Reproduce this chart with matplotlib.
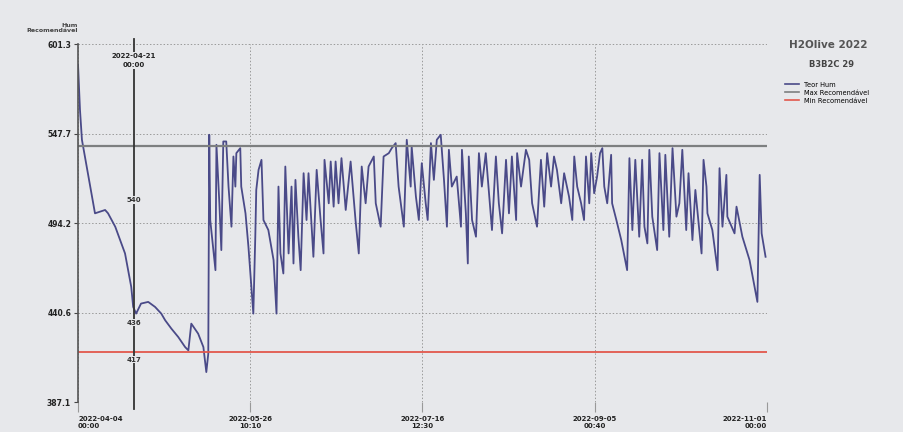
import matplotlib.pyplot as plt
from matplotlib.lines import Line2D

# dias desde 2022-04-04 e teor de humidade
days = [0, 0.6, 1.2, 5.2, 8.3, 9.2, 11.4, 14.4, 16.3, 16.9, 17.8, 19.3, 21.5, 23.6,
        25.5, 26.7, 28.6, 30.7, 32.8, 33.8, 34.7, 36.8, 38.4, 39.3, 39.9, 40.2,
        40.5, 42.1, 42.4, 43.3, 43.9, 44.5, 45.4, 46.1, 47.0, 47.6, 48.2, 48.5,
        49.7, 50.0, 51.3, 52.2, 53.7, 54.3, 54.6, 55.3, 56.2, 56.8, 58.3, 59.9,
        60.8, 61.4, 62.0, 62.9, 63.5, 64.5, 65.4, 66.0, 66.6, 67.5, 68.2, 69.1,
        70.0, 70.6, 72.1, 73.1, 74.3, 75.2, 75.5, 76.8, 77.4, 78.3, 78.9, 79.8,
        80.7, 82.0, 83.5, 85.0, 86.0, 86.9, 88.1, 89.0, 90.6, 91.2, 92.7, 93.6,
        95.2, 96.1, 97.3, 98.2, 99.8, 100.7, 101.9, 102.2, 103.5, 104.4, 105.3,
        106.5, 107.1, 108.1, 109.0, 109.9, 111.1, 112.1, 113.0, 113.6, 114.5,
        116.0, 117.3, 117.6, 118.8, 119.4, 119.7, 120.7, 121.9, 122.8, 123.7,
        124.9, 125.9, 126.8, 128.0, 128.9, 129.9, 131.1, 132.0, 132.9, 134.2,
        134.5, 135.7, 137.2, 138.2, 139.1, 140.6, 141.8, 142.8, 143.7, 144.9,
        145.8, 146.7, 148.0, 148.9, 150.4, 151.4, 152.0, 152.9, 154.1, 155.0,
        155.6, 156.6, 157.2, 158.1, 159.0, 159.9, 160.6, 161.2, 162.1, 163.3,
        163.6, 164.9, 166.4, 168.2, 168.9, 169.8, 170.7, 171.9, 172.8, 173.5,
        174.4, 175.0, 175.9, 177.4, 178.1, 179.3, 179.9, 181.1, 182.1, 183.3,
        184.2, 185.1, 186.3, 187.0, 188.2, 189.1, 191.0, 191.6, 192.5, 192.8,
        194.3, 195.9, 196.5, 197.4, 198.6, 198.9, 201.1, 201.7, 203.5, 205.7,
        208.1, 208.8, 209.4, 210.6]
hum = [589, 562, 544, 500, 502, 500, 492, 476, 456, 444, 440, 446, 447, 444,
       440, 436, 431, 426, 420, 418, 434, 428, 420, 405, 416, 547,
       496, 466, 541, 506, 478, 543, 543, 516, 492, 534, 516, 536,
       539, 516, 500, 480, 440, 486, 514, 526, 532, 496, 490, 472,
       440, 516, 476, 464, 528, 476, 516, 470, 520, 486, 466, 524,
       496, 524, 474, 526, 496, 476, 532, 506, 531, 504, 531, 506,
       533, 502, 531, 496, 476, 528, 506, 528, 534, 506, 492, 534,
       536, 539, 542, 516, 492, 544, 516, 540, 510, 496, 530,
       506, 496, 542, 520, 544, 547, 520, 492, 538, 516,
       522, 492, 538, 500, 470, 534, 496, 486, 536, 516,
       536, 512, 490, 534, 506, 488, 532, 500, 534, 496,
       536, 516, 538, 532, 506, 492, 532, 504, 536, 516,
       534, 526, 506, 524, 510, 496, 534, 516, 506, 496,
       534, 506, 536, 512, 522, 536, 539, 516, 506, 535,
       506, 496, 484, 466, 533, 490, 532, 486, 532, 492,
       482, 538, 498, 478, 536, 490, 535, 486, 539, 498,
       506, 538, 490, 524, 484, 514, 476, 532, 516, 500,
       490, 466, 527, 492, 523, 498, 488, 504, 486, 472,
       447, 523, 488, 474]

max_rec = 540
min_rec = 417
y_ticks = [387.1, 440.6, 494.2, 547.7, 601.3]
x_ticks = [0, 52.75, 105.5, 158.25, 211]
x_labels = ["2022-04-04\n00:00", "2022-05-26\n10:10", "2022-07-16\n12:30",
            "2022-09-05\n00:40", "2022-11-01\n00:00"]
cursor_day = 17.2
cursor_label = "2022-04-21\n00:00"
cursor_vals = [(508, "540"), (434.5, "436"), (412.5, "417")]

bg = "#e7e8eb"
line_col = "#4a4a88"
max_col = "#7d7f80"
min_col = "#e2574c"

fig = plt.figure(figsize=(9.04, 4.32), dpi=100, facecolor=bg)
ax = fig.add_axes([0.0863, 0.0694, 0.762, 0.8287], facecolor=bg)

ax.plot(days, hum, color=line_col, lw=1.3)
ax.axhline(max_rec, color=max_col, lw=1.6)
ax.axhline(min_rec, color=min_col, lw=1.3)

ax.set_xlim(0, 211)
ax.set_ylim(387.1, 601.3)
ax.set_yticks(y_ticks)
ax.set_yticklabels([f"{v:.1f}" for v in y_ticks], fontsize=5.5, fontweight="bold", color="#222")
ax.set_xticks(x_ticks)
ax.set_xticklabels(x_labels, fontsize=5, fontweight="bold", color="#222")
xt = ax.get_xticklabels()
xt[0].set_ha("left")
xt[-1].set_ha("right")
ax.tick_params(axis="x", length=7, color="#999", pad=3)
ax.tick_params(axis="y", length=3, color="#444", pad=2)

ax.grid(True, color="#9a9a9a", lw=0.7, ls=(0, (1.5, 2)))
for s in ["top", "right", "bottom"]:
    ax.spines[s].set_visible(False)
ax.spines["left"].set_color("#555")
ax.spines["left"].set_linewidth(1.2)

# cursor
ax.axvline(cursor_day, ymin=-0.02, ymax=1.015, color="#333", lw=1.3, clip_on=False)
ax.text(cursor_day, 596, cursor_label, ha="center", va="top", fontsize=5,
        fontweight="bold", color="#222", linespacing=1.6,
        bbox=dict(boxstyle="square,pad=0.15", fc=bg, ec="none"))
for v, t in cursor_vals:
    ax.text(cursor_day, v, t, ha="center", va="center", fontsize=5, fontweight="bold",
            color="#333", bbox=dict(boxstyle="square,pad=0.1", fc=bg, ec="none"))

fig.text(0.0863, 0.935, "Hum\nRecomendável", ha="right", va="center", fontsize=4.5,
         fontweight="bold", color="#444", linespacing=1.1)

fig.text(0.873, 0.89, "H2Olive 2022", fontsize=7.5, fontweight="bold", color="#555")
fig.text(0.895, 0.845, "B3B2C 29", fontsize=6, fontweight="bold", color="#444")
handles = [Line2D([], [], color=line_col, lw=1.2),
           Line2D([], [], color=max_col, lw=1.2),
           Line2D([], [], color=min_col, lw=1.2)]
fig.legend(handles, ["Teor Hum", "Max Recomendável", "Min Recomendável"],
           loc="upper left", bbox_to_anchor=(0.862, 0.825), frameon=False,
           fontsize=4.8, handlelength=2, labelspacing=0.3, handletextpad=0.8)

fig.savefig("out.png", dpi=100, facecolor=bg)
